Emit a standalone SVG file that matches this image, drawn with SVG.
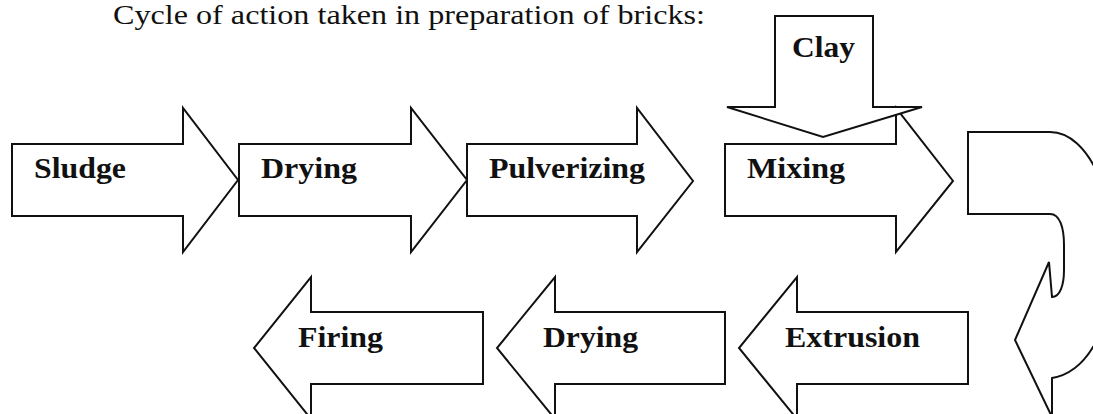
<svg xmlns="http://www.w3.org/2000/svg" width="1093" height="414" viewBox="0 0 1093 414">
<style>
.shape{fill:#ffffff;stroke:#111111;stroke-width:2;stroke-linejoin:miter}
.lbl{font-family:"Liberation Serif","Times New Roman",serif;font-weight:bold;font-size:30px;fill:#111111}
.title{font-family:"Liberation Serif","Times New Roman",serif;font-size:28px;fill:#111111}
</style>
<rect width="1093" height="414" fill="#ffffff"/>
<text class="title" x="113" y="24" textLength="592" lengthAdjust="spacingAndGlyphs">Cycle of action taken in preparation of bricks:</text>
<g id="connectors"></g>
<g id="sludge">
<path class="shape" d="M12 144 L183 144 L183 108 L238 180 L183 252 L183 216 L12 216 Z"/>
<text class="lbl" x="34" y="178" textLength="92" lengthAdjust="spacingAndGlyphs">Sludge</text>
</g>
<g id="drying1">
<path class="shape" d="M239 144 L411 144 L411 108 L467 180 L411 252 L411 216 L239 216 Z"/>
<text class="lbl" x="261" y="178" textLength="96" lengthAdjust="spacingAndGlyphs">Drying</text>
</g>
<g id="pulverizing">
<path class="shape" d="M467 144 L637 144 L637 108 L693 181 L637 252 L637 216 L467 216 Z"/>
<text class="lbl" x="489" y="178" textLength="156" lengthAdjust="spacingAndGlyphs">Pulverizing</text>
</g>
<g id="mixing">
<path class="shape" d="M725 144 L896 144 L896 108 L953 181 L896 252 L896 216 L725 216 Z"/>
<text class="lbl" x="747" y="178" textLength="98" lengthAdjust="spacingAndGlyphs">Mixing</text>
</g>
<g id="clay">
<path class="shape" d="M775 16 L873 16 L873 107 L922 107 L823 137 L727 107 L775 107 Z"/>
<text class="lbl" x="792" y="57" textLength="63" lengthAdjust="spacingAndGlyphs">Clay</text>
</g>
<g id="turn">
<path class="shape" d="M968 132 L1050 132 C1090 132 1115 200 1115 255 C1115 320 1090 372 1052 378 L1052 417 L1015 340 L1049 262 L1052 297 C1060 297 1064 285 1064 270 L1064 245 C1064 228 1060 214 1050 214 L968 214 Z"/>
</g>
<g id="extrusion">
<path class="shape" d="M968 312 L797 312 L797 277 L739 348 L797 419 L797 384 L968 384 Z"/>
<text class="lbl" x="785" y="347" textLength="135" lengthAdjust="spacingAndGlyphs">Extrusion</text>
</g>
<g id="drying2">
<path class="shape" d="M725 312 L555 312 L555 277 L497 348 L555 419 L555 384 L725 384 Z"/>
<text class="lbl" x="543" y="347" textLength="95" lengthAdjust="spacingAndGlyphs">Drying</text>
</g>
<g id="firing">
<path class="shape" d="M483 312 L311 312 L311 277 L254 348 L311 419 L311 384 L483 384 Z"/>
<text class="lbl" x="298" y="347" textLength="85" lengthAdjust="spacingAndGlyphs">Firing</text>
</g>
</svg>
